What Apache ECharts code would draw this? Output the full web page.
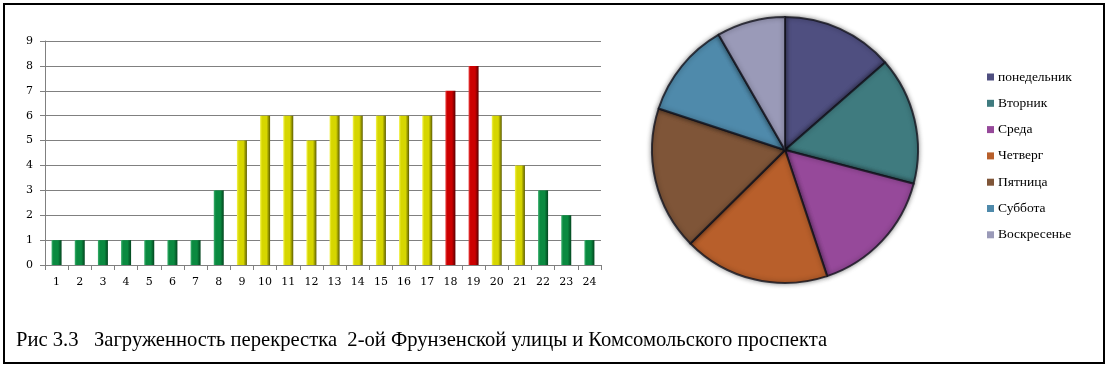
<!DOCTYPE html>
<html>
<head>
<meta charset="utf-8">
<style>
html,body{margin:0;padding:0;background:#fff;}
#chart{width:1110px;height:370px;}
</style>
<script src="https://cdn.jsdelivr.net/npm/echarts@6/dist/echarts.min.js"></script>
</head>
<body>
<div id="chart"></div>
<script>
// Data
const hours = ['1','2','3','4','5','6','7','8','9','10','11','12','13','14','15','16','17','18','19','20','21','22','23','24'];
const load = [1,1,1,1,1,1,1,3,5,6,6,5,6,6,6,6,6,7,8,6,4,3,2,1];
const yTicks = [0,1,2,3,4,5,6,7,8,9];
const days = ['понедельник','Вторник','Среда','Четверг','Пятница','Суббота','Воскресенье'];
const dayValues = [49,56,57,64,63,42,30];
const caption = 'Рис 3.3   Загруженность перекрестка  2-ой Фрунзенской улицы и Комсомольского проспекта';

const dayColors = ['#4f4f80','#3f7b7f','#96499a','#b85f2b','#7f5538','#4f8aab','#9a9ab8'];

function barGrad(v){
  let light, main, dark;
  if (v >= 7) { light='#e84040'; main='#cc0000'; dark='#5a0000'; }
  else if (v >= 4) { light='#f4f450'; main='#d6d600'; dark='#5c5c00'; }
  else { light='#3cb06e'; main='#0a8a40'; dark='#03451f'; }
  return new echarts.graphic.LinearGradient(0,0,1,0,[
    {offset:0,color:light},{offset:0.2,color:main},{offset:0.65,color:main},{offset:1,color:dark}
  ]);
}

const chart = echarts.init(document.getElementById('chart'));
const serif = 'Liberation Serif';
chart.setOption({
  animation:false,
  backgroundColor:'#fff',
  title:{
    text:caption, left:11, top:325,
    textStyle:{fontFamily:serif,fontSize:20.6,fontWeight:'normal',color:'#000'}
  },
  graphic:[{
    type:'rect', shape:{x:4,y:4,width:1100,height:359},
    style:{fill:'none',stroke:'#000',lineWidth:2}, silent:true, z:100
  }],
  grid:{left:45,right:509,top:41,bottom:105},
  xAxis:{
    type:'category', data:hours, boundaryGap:true,
    axisLine:{lineStyle:{color:'#808080',width:1}},
    axisTick:{show:true,length:5,alignWithLabel:false,lineStyle:{color:'#808080'}},
    axisLabel:{color:'#000',fontFamily:'DejaVu Serif',fontSize:11,margin:12,interval:0}
  },
  yAxis:{
    type:'value', min:yTicks[0], max:yTicks[yTicks.length-1], interval:1,
    axisLine:{show:true,lineStyle:{color:'#808080'}},
    axisTick:{show:true,length:5,lineStyle:{color:'#808080'}},
    splitLine:{lineStyle:{color:'#808080',width:1}},
    axisLabel:{color:'#000',fontFamily:'DejaVu Serif',fontSize:11,margin:12}
  },
  legend:{
    orient:'vertical', left:982, top:65, itemWidth:7, itemHeight:7, itemGap:12.3,
    icon:'rect', data:days,
    itemStyle:{borderWidth:0,shadowBlur:0},
    textStyle:{fontFamily:serif,fontSize:13.5,lineHeight:14,color:'#000',padding:[0,0,0,-1]}
  },
  series:[
    {
      type:'bar', data:load.map(v=>({value:v,itemStyle:{color:barGrad(v)}})),
      barWidth:10, silent:true
    },
    {
      type:'pie', center:[785,150], radius:133, startAngle:90, clockwise:true,
      label:{show:false}, labelLine:{show:false}, silent:true,
      data:days.map((d,i)=>({name:d,value:dayValues[i],itemStyle:{color:dayColors[i]}})),
      itemStyle:{borderColor:'rgba(20,20,30,0.8)',borderWidth:2,shadowBlur:5,shadowColor:'rgba(0,0,0,0.45)'}
    }
  ]
});
</script>
</body>
</html>
